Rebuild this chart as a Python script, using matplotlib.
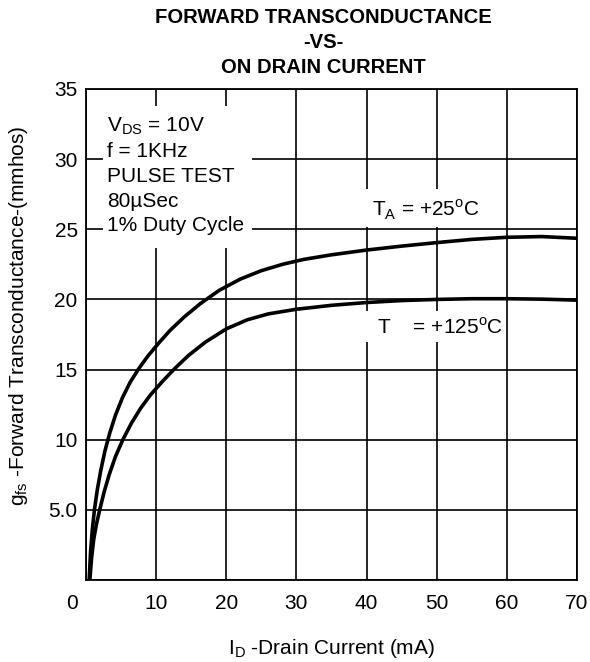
import matplotlib
matplotlib.use("Agg")
import matplotlib.pyplot as plt
from matplotlib.patches import Rectangle

plt.rcParams["font.family"] = ["Liberation Sans", "DejaVu Sans"]
plt.rcParams["mathtext.fontset"] = "custom"
plt.rcParams["mathtext.rm"] = "Liberation Sans"

# values
id_25 = [0.45, 0.65, 0.9, 1.2, 1.6, 2.1, 2.7, 3.4, 4.2, 5.2, 6.3, 7.5, 8.8, 10.3, 12,
         14, 16.3, 19, 22, 25, 28, 31, 35, 40, 45, 50, 55, 60, 65, 70]
gfs_25 = [0, 2.0, 3.6, 5.0, 6.4, 7.8, 9.2, 10.5, 11.75, 13.0, 14.1, 15.05, 15.95, 16.85,
          17.8, 18.75, 19.7, 20.65, 21.45, 22.05, 22.5, 22.85, 23.18, 23.52, 23.8, 24.05,
          24.28, 24.43, 24.48, 24.36]

id_125 = [0.55, 0.8, 1.1, 1.5, 2.0, 2.6, 3.3, 4.2, 5.3, 6.5, 7.8, 9.2, 10.8, 12.6, 14.6,
          17, 20, 23, 26, 30, 35, 40, 45, 50, 55, 60, 65, 70]
gfs_125 = [0, 1.6, 2.9, 4.0, 5.1, 6.3, 7.5, 8.8, 10.05, 11.2, 12.25, 13.2, 14.1, 15.05, 16.0,
           16.95, 17.9, 18.55, 18.97, 19.3, 19.58, 19.78, 19.92, 20.0, 20.05, 20.05, 20.02,
           19.95]

x_ticks = [0, 10, 20, 30, 40, 50, 60, 70]
x_labels = ["", "10", "20", "30", "40", "50", "60", "70"]
y_ticks = [0, 5, 10, 15, 20, 25, 30, 35]
y_labels = ["", "5.0", "10", "15", "20", "25", "30", "35"]

conditions = "V$_\\mathregular{DS}$ = 10V\nf = 1KHz\nPULSE TEST\n80\u00b5Sec\n1% Duty Cycle"


def white_box(ax, x0, x1, y0, y1):
    ax.add_patch(Rectangle((x0, y0), x1 - x0, y1 - y0, facecolor="white",
                           edgecolor="none", zorder=1))


def main():
    fig = plt.figure(figsize=(5.9, 6.62), dpi=100)
    ax = fig.add_axes([86 / 590, 82 / 662, 491 / 590, 491 / 662])

    ax.plot(id_25, gfs_25, color="black", lw=2.6, zorder=5, solid_joinstyle="round")
    ax.plot(id_125, gfs_125, color="black", lw=2.6, zorder=5, solid_joinstyle="round")

    ax.set_xlim(0, 70)
    ax.set_ylim(0, 35)
    ax.set_xticks(x_ticks)
    ax.set_xticklabels(x_labels)
    ax.set_yticks(y_ticks)
    ax.set_yticklabels(y_labels)
    ax.tick_params(length=0, labelsize=15)
    ax.tick_params(axis="x", pad=10)
    ax.tick_params(axis="y", pad=6)
    ax.annotate("0", xy=(0, 0), xycoords=("data", "axes fraction"),
                xytext=(-10, -10), textcoords="offset points",
                ha="center", va="top", fontsize=15)

    ax.set_axisbelow(True)
    ax.grid(True, color="black", lw=1.2)
    for sp in ax.spines.values():
        sp.set_linewidth(1.3)

    ax.set_xlabel("I$_\\mathregular{D}$ -Drain Current (mA)", fontsize=15, labelpad=17)
    ax.set_ylabel("g$_\\mathregular{fs}$ -Forward Transconductance-(mmhos)", fontsize=15)
    ax.yaxis.set_label_coords(-0.115, 0.538)

    # white areas that cut the grid behind the labels
    white_box(ax, 2.4, 23.6, 23.7, 33.8)
    white_box(ax, 39.6, 57.0, 25.15, 27.85)
    white_box(ax, 39.6, 59.4, 16.95, 19.2)

    ax.text(3.0, 33.15, conditions, fontsize=15, ha="left", va="top",
            linespacing=1.38, zorder=3)
    ax.text(40.8, 26.35, "T$_\\mathregular{A}$ = +25$^\\mathregular{o}$C", fontsize=15,
            ha="left", va="center", zorder=3)
    ax.text(41.5, 18.0, "T    = +125$^\\mathregular{o}$C", fontsize=15,
            ha="left", va="center", zorder=3)

    fig.text(323 / 590, 1 - 8 / 662, "FORWARD TRANSCONDUCTANCE\n-VS-\nON DRAIN CURRENT",
             ha="center", va="top", fontsize=14.6, fontweight="bold", linespacing=1.4)

    fig.savefig("out.png", dpi=100)
    plt.close(fig)


if __name__ == "__main__":
    main()
